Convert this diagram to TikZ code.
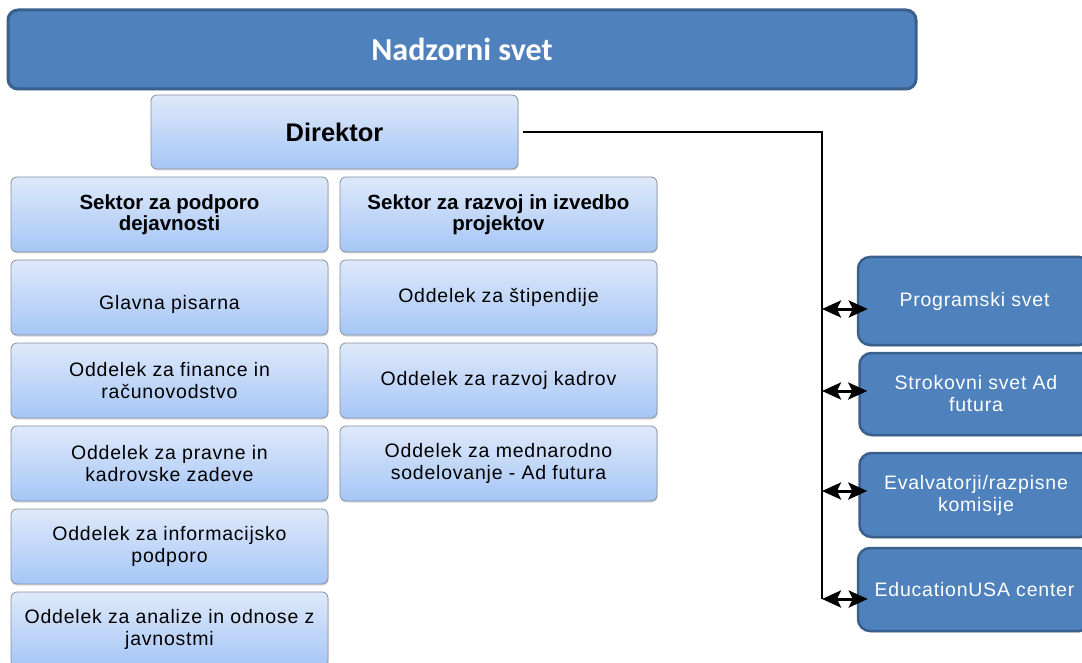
\documentclass[tikz,border=0pt]{standalone}
\usepackage{fontspec}
\setmainfont{Liberation Sans}
\newfontfamily\lsp{Liberation Sans}[LetterSpace=4]
\newfontfamily\calb{Carlito}
\usetikzlibrary{arrows.meta,shadows}
\definecolor{lighttop}{RGB}{222,233,250}
\definecolor{lightbot}{RGB}{166,198,246}
\definecolor{boxedge}{RGB}{135,145,160}
\definecolor{darkfill}{RGB}{79,129,189}
\definecolor{darkedge}{RGB}{58,96,142}
\begin{document}
\begin{tikzpicture}[x=1pt,y=-1pt,
  lightbox/.style={draw=boxedge, line width=0.8pt, rounded corners=6pt,
    top color=lighttop, bottom color=lightbot,
    minimum width=317pt, minimum height=75pt, inner sep=0pt, align=center,
    drop shadow={shadow xshift=0.6pt, shadow yshift=-1.5pt, opacity=0.3},
    font=\lsp\fontsize{19.5}{22}\selectfont},
  sectorbox/.style={lightbox, font=\bfseries\fontsize{20.5}{21}\selectfont},
  darkbox/.style={draw=darkedge, line width=2.5pt, rounded corners=12pt,
    fill=darkfill, text=white, minimum width=233pt, inner sep=0pt, align=center,
    drop shadow={shadow xshift=0.6pt, shadow yshift=-1.5pt, opacity=0.3},
    font=\lsp\fontsize{19.5}{22}\selectfont},
  conn/.style={draw=black, line width=1.5pt},
  headtip/.tip={Stealth[length=19pt,width=17pt,inset=4pt]},
  dblarrow/.style={draw=black, line width=3pt, headtip-headtip}
]
\useasboundingbox (0,0) rectangle (1082,663);
\fill[white] (0,0) rectangle (1082,663);

% top
\node[draw=darkedge, line width=3pt, rounded corners=10pt, fill=darkfill,
  minimum width=908pt, minimum height=79pt, inner sep=0pt, text=white,
  drop shadow={shadow xshift=0.6pt, shadow yshift=-1.5pt, opacity=0.3},
  font=\calb\bfseries\fontsize{32}{34}\selectfont] (nad) at (462,49.5) {Nadzorni svet};

\node[lightbox, minimum width=367pt, minimum height=74pt,
  font=\bfseries\fontsize{25.5}{27}\selectfont] (dir) at (334.5,132) {Direktor};

\node[sectorbox] (s1) at (169.5,214.5) {Sektor za podporo\\dejavnosti};
\node[sectorbox] (s2) at (498.5,214.5) {Sektor za razvoj in izvedbo\\projektov};

\node[lightbox, text height=23pt, text depth=0pt] (l1) at (169.5,297.5) {Glavna pisarna};
\node[lightbox] (l2) at (169.5,380.5) {Oddelek za finance in\\računovodstvo};
\node[lightbox] (l3) at (169.5,463.5) {Oddelek za pravne in\\kadrovske zadeve};
\node[lightbox] (l4) at (169.5,546.5) {Oddelek za informacijsko\\podporo};
\node[lightbox] (l5) at (169.5,629.5) {Oddelek za analize in odnose z\\javnostmi};

\node[lightbox] (r1) at (498.5,297.5) {Oddelek za štipendije};
\node[lightbox] (r2) at (498.5,380.5) {Oddelek za razvoj kadrov};
\node[lightbox] (r3) at (498.5,463.5) {Oddelek za mednarodno\\sodelovanje - Ad futura};

\node[darkbox, minimum height=88pt] (p1) at (974.5,301) {Programski svet};
\node[darkbox, minimum height=82pt] (p2) at (976,394) {Strokovni svet Ad\\futura};
\node[darkbox, minimum height=84pt] (p3) at (976,495) {Evalvatorji/razpisne\\komisije};
\node[darkbox, minimum height=83pt] (p4) at (974.5,589.5) {EducationUSA center};

% connectors
\coordinate (vb) at (822,599);
\draw[conn, shorten <=5pt] (dir.east) -| (vb);
\coordinate (a1) at (822,309);
\coordinate (a2) at (822,391);
\coordinate (a3) at (822,491);
\coordinate (a4) at (822,599);
\draw[dblarrow] (a1) -- ([xshift=11pt]a1 -| p1.west);
\draw[dblarrow] (a2) -- ([xshift=9pt]a2 -| p2.west);
\draw[dblarrow] (a3) -- ([xshift=9pt]a3 -| p3.west);
\draw[dblarrow] (a4) -- ([xshift=11pt]a4 -| p4.west);
\end{tikzpicture}
\end{document}
